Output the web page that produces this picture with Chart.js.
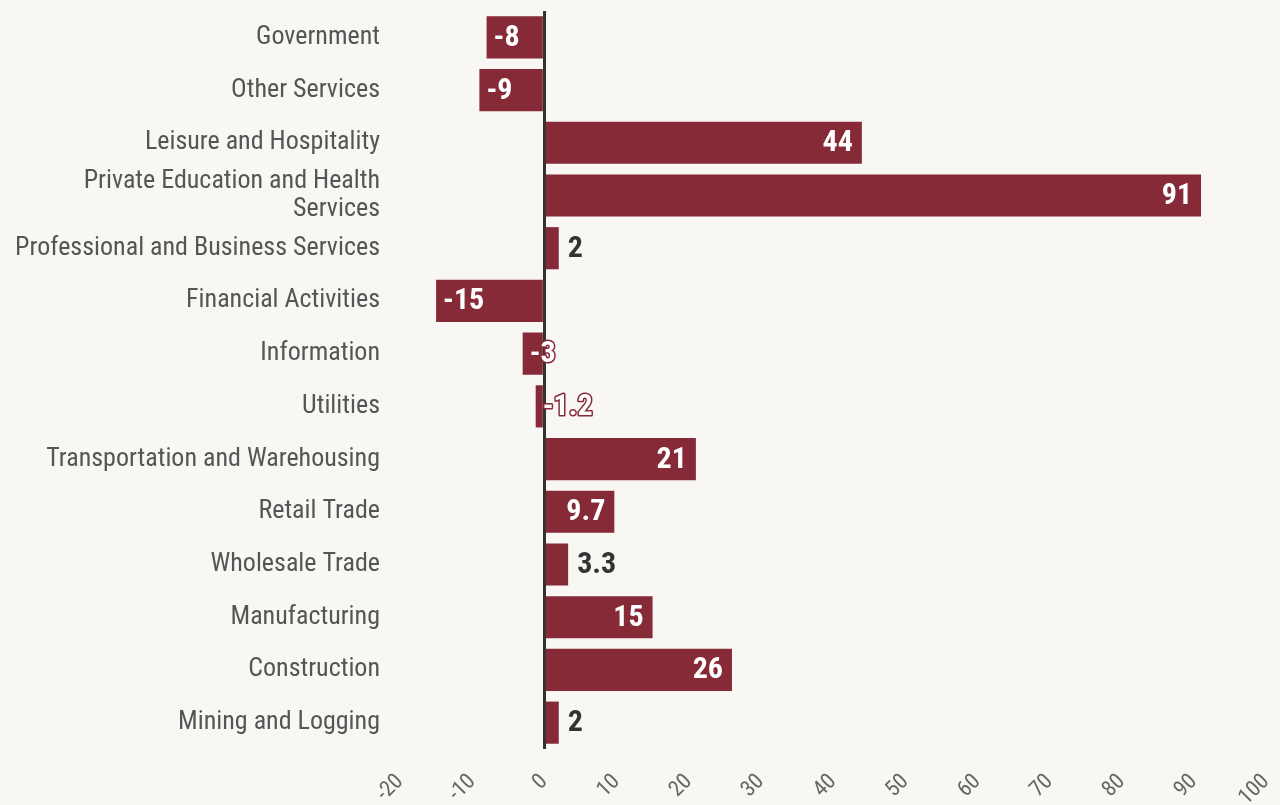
<!DOCTYPE html>
<html>
<head>
<meta charset="utf-8">
<script src="https://cdn.jsdelivr.net/npm/chart.js@4"></script>
<style>
  html, body { margin: 0; padding: 0; background: #f8f7f4; }
  #wrap { width: 1280px; height: 805px; }
</style>
</head>
<body>
<div id="wrap"><canvas id="c"></canvas></div>
<script>
const SECTORES = [
    'Government',
    'Other Services',
    'Leisure and Hospitality',
    ['Private Education and Health', 'Services'],
    'Professional and Business Services',
    'Financial Activities',
    'Information',
    'Utilities',
    'Transportation and Warehousing',
    'Retail Trade',
    'Wholesale Trade',
    'Manufacturing',
    'Construction',
    'Mining and Logging'
];
const CAMBIOS = [-8, -9, 44, 91, 2, -15, -3, -1.2, 21, 9.7, 3.3, 15, 26, 2];
const X_MIN = -20;
const X_MAX = 100;
const X_PASO = 10;

const COLOR_BARRA = '#872a37';
const COLOR_TEXTO = '#555555';
const COLOR_OSCURO = '#333333';
const FUENTE = "'Roboto Condensed', 'Liberation Sans Narrow', 'DejaVu Sans Condensed', Roboto, sans-serif";

// etiquetas de valor: dentro del extremo si caben, si no fuera (positivos) o con contorno (negativos)
const etiquetasValor = {
    id: 'etiquetasValor',
    afterDatasetsDraw(chart) {
        const { ctx } = chart;
        const meta = chart.getDatasetMeta(0);
        ctx.save();
        ctx.font = `bold 30px ${FUENTE}`;
        ctx.textBaseline = 'middle';
        meta.data.forEach((bar, i) => {
            const v = CAMBIOS[i];
            const txt = String(v);
            const w = ctx.measureText(txt).width;
            const ancho = Math.abs(bar.x - bar.base);
            const y = bar.y + 1;
            if (v >= 0) {
                if (ancho > w + 16) {
                    ctx.textAlign = 'right';
                    ctx.fillStyle = '#ffffff';
                    ctx.fillText(txt, bar.x - 9, y);
                } else {
                    ctx.textAlign = 'left';
                    ctx.fillStyle = COLOR_OSCURO;
                    ctx.fillText(txt, bar.x + 9, y);
                }
            } else {
                ctx.textAlign = 'left';
                const x = bar.x + 7;
                if (ancho < w + 12) {
                    ctx.lineWidth = 3;
                    ctx.strokeStyle = COLOR_BARRA;
                    ctx.lineJoin = 'round';
                    ctx.strokeText(txt, x, y);
                }
                ctx.fillStyle = '#ffffff';
                ctx.fillText(txt, x, y);
            }
        });
        ctx.restore();
    }
};

new Chart(document.getElementById('c'), {
    type: 'bar',
    data: {
        labels: SECTORES,
        datasets: [{
            data: CAMBIOS,
            backgroundColor: COLOR_BARRA,
            categoryPercentage: 1,
            barPercentage: 0.8
        }]
    },
    plugins: [etiquetasValor],
    options: {
        indexAxis: 'y',
        responsive: true,
        maintainAspectRatio: false,
        animation: false,
        layout: { padding: { top: 11, right: 14, left: 0, bottom: 0 } },
        plugins: {
            legend: { display: false },
            tooltip: { enabled: false }
        },
        scales: {
            x: {
                min: X_MIN,
                max: X_MAX,
                border: { display: false },
                grid: {
                    drawTicks: false,
                    lineWidth: 3,
                    color: (c) => (c.tick && c.tick.value === 0 ? COLOR_OSCURO : 'rgba(0,0,0,0)')
                },
                ticks: {
                    stepSize: X_PASO,
                    minRotation: 45,
                    maxRotation: 45,
                    padding: 20,
                    color: '#666666',
                    font: { family: FUENTE, size: 22 }
                },
                afterFit: (s) => {
                    s.height = 56;
                    s.paddingLeft = 0;
                    s.paddingRight = 0;
                }
            },
            y: {
                border: { display: false },
                grid: { display: false, drawTicks: false },
                ticks: {
                    autoSkip: false,
                    padding: 20,
                    color: COLOR_TEXTO,
                    font: { family: FUENTE, size: 26, lineHeight: 1.05 }
                },
                afterFit: (s) => {
                    s.width = 400;
                    s.paddingTop = 0;
                    s.paddingBottom = 0;
                }
            }
        }
    }
});
</script>
</body>
</html>
